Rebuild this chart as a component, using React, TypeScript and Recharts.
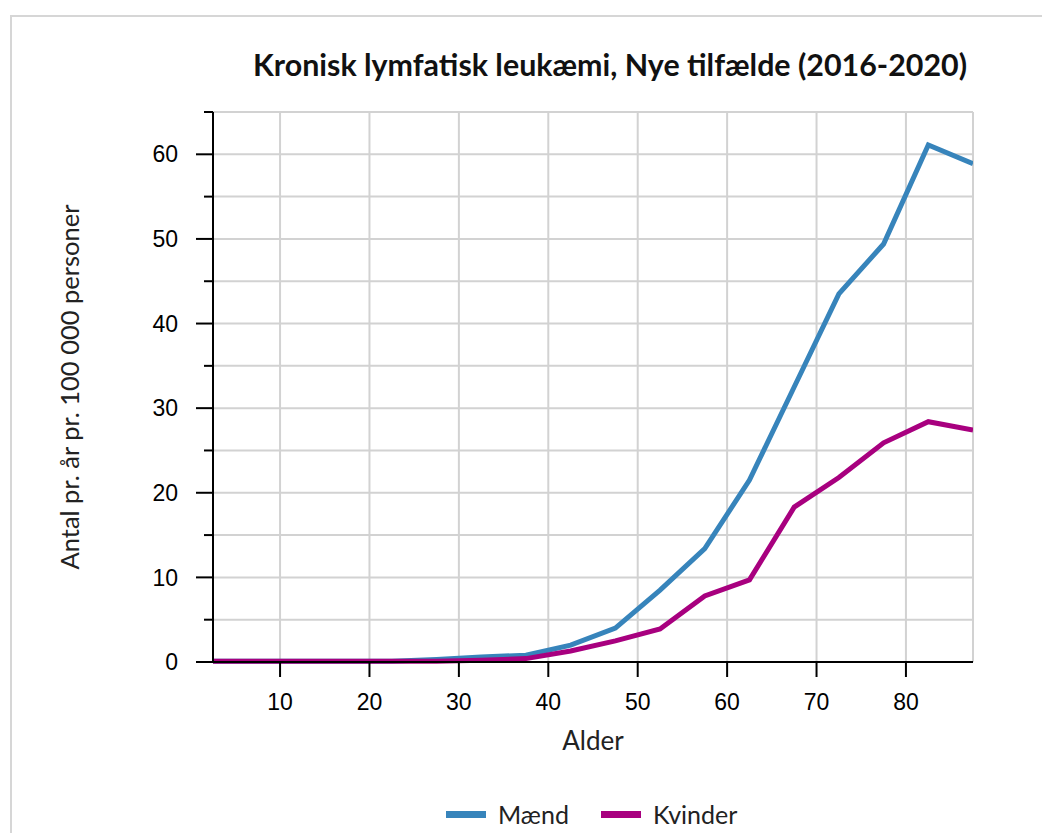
import { LineChart, Line, XAxis, YAxis, CartesianGrid } from "recharts";

// age group midpoints (0-4, 5-9, ... 85+)
const ages = [2.5, 7.5, 12.5, 17.5, 22.5, 27.5, 32.5, 37.5, 42.5, 47.5, 52.5, 57.5, 62.5, 67.5, 72.5, 77.5, 82.5, 87.5];
const maend = [0.1, 0.1, 0.1, 0.1, 0.1, 0.3, 0.6, 0.8, 2.0, 4.0, 8.5, 13.4, 21.5, 32.5, 43.5, 49.4, 61.1, 58.9];
const kvinder = [0.1, 0.1, 0.1, 0.1, 0.1, 0.1, 0.2, 0.4, 1.3, 2.5, 3.9, 7.8, 9.7, 18.3, 21.8, 25.9, 28.4, 27.4];

const xTicks = [10, 20, 30, 40, 50, 60, 70, 80];
const yTicks = [0, 5, 10, 15, 20, 25, 30, 35, 40, 45, 50, 55, 60, 65];

const series = [
  { key: "maend", name: "Mænd", color: "#3784bb" },
  { key: "kvinder", name: "Kvinder", color: "#a8007f" },
];

const TITLE = "Kronisk lymfatisk leukæmi, Nye tilfælde (2016-2020)";
const X_LABEL = "Alder";
const Y_LABEL = "Antal pr. år pr. 100 000 personer";

const data = ages.map((age, i) => ({ age, maend: maend[i], kvinder: kvinder[i] }));

const tickFont = "'Liberation Sans', Arial, sans-serif";
const textFont = "Lato, 'Open Sans', sans-serif";

function YTick(props: any) {
  const { x, y, payload } = props;
  const major = payload.value % 10 === 0;
  return (
    <g>
      <line x1={x - (major ? 17 : 9)} x2={x} y1={y} y2={y} stroke="#000" strokeWidth={2} />
      {major && (
        <text x={x - 35} y={y} dy="0.355em" textAnchor="end" fontSize={23} fontFamily={tickFont} fill="#000">
          {payload.value}
        </text>
      )}
    </g>
  );
}

export default function App() {
  return (
    <div style={{ position: "absolute", left: 0, top: 0, width: 1042, height: 833, background: "#fff", overflow: "hidden" }}>
      <div
        style={{
          position: "absolute",
          left: 10,
          top: 15,
          width: 1032,
          height: 818,
          borderTop: "2px solid #d6d6d6",
          borderLeft: "2px solid #d6d6d6",
          boxSizing: "border-box",
        }}
      />
      <svg width={1042} height={100} style={{ position: "absolute", left: 0, top: 0 }}>
        <text
          x={253}
          y={76}
          textLength={714}
          lengthAdjust="spacingAndGlyphs"
          fontSize={30}
          fontWeight={700}
          fontFamily={textFont}
          fill="#111"
        >
          {TITLE}
        </text>
      </svg>
      <div style={{ position: "absolute", left: 0, top: 0 }}>
        <LineChart width={1042} height={833} data={data} margin={{ top: 112, right: 69, left: 53, bottom: 71 }}>
          <CartesianGrid stroke="#d2d2d2" strokeWidth={2} />
          <XAxis
            dataKey="age"
            type="number"
            domain={[2.5, 87.5]}
            ticks={xTicks}
            interval={0}
            allowDataOverflow
            height={100}
            tickSize={15}
            tickMargin={17}
            tickLine={{ stroke: "#000", strokeWidth: 2 }}
            axisLine={{ stroke: "#000", strokeWidth: 2 }}
            tick={{ fill: "#000", fontSize: 23, fontFamily: tickFont }}
            label={{ value: X_LABEL, position: "insideTop", offset: 70, fill: "#222", fontSize: 26, fontFamily: textFont }}
          />
          <YAxis
            type="number"
            domain={[0, 65]}
            ticks={yTicks}
            interval={0}
            width={160}
            tickSize={0}
            tickMargin={0}
            tickLine={false}
            axisLine={{ stroke: "#000", strokeWidth: 2 }}
            tick={<YTick />}
            label={{
              value: Y_LABEL,
              angle: -90,
              position: "insideLeft",
              offset: 17,
              fill: "#222",
              fontSize: 25.5,
              fontFamily: textFont,
              style: { textAnchor: "middle" },
            }}
          />
          {series.map((s) => (
            <Line
              key={s.key}
              type="linear"
              dataKey={s.key}
              name={s.name}
              stroke={s.color}
              strokeWidth={5}
              strokeLinejoin="miter"
              dot={false}
              activeDot={false}
              isAnimationActive={false}
            />
          ))}
        </LineChart>
      </div>
      <div
        style={{
          position: "absolute",
          left: 446,
          top: 799,
          height: 30,
          display: "flex",
          alignItems: "center",
          fontFamily: textFont,
          fontSize: 25,
          color: "#222",
        }}
      >
        {series.map((s, i) => (
          <div key={s.key} style={{ display: "flex", alignItems: "center", marginLeft: i === 0 ? 0 : 32 }}>
            <span style={{ display: "inline-block", width: 40, height: 7, background: s.color, marginRight: 12 }} />
            <span>{s.name}</span>
          </div>
        ))}
      </div>
    </div>
  );
}
